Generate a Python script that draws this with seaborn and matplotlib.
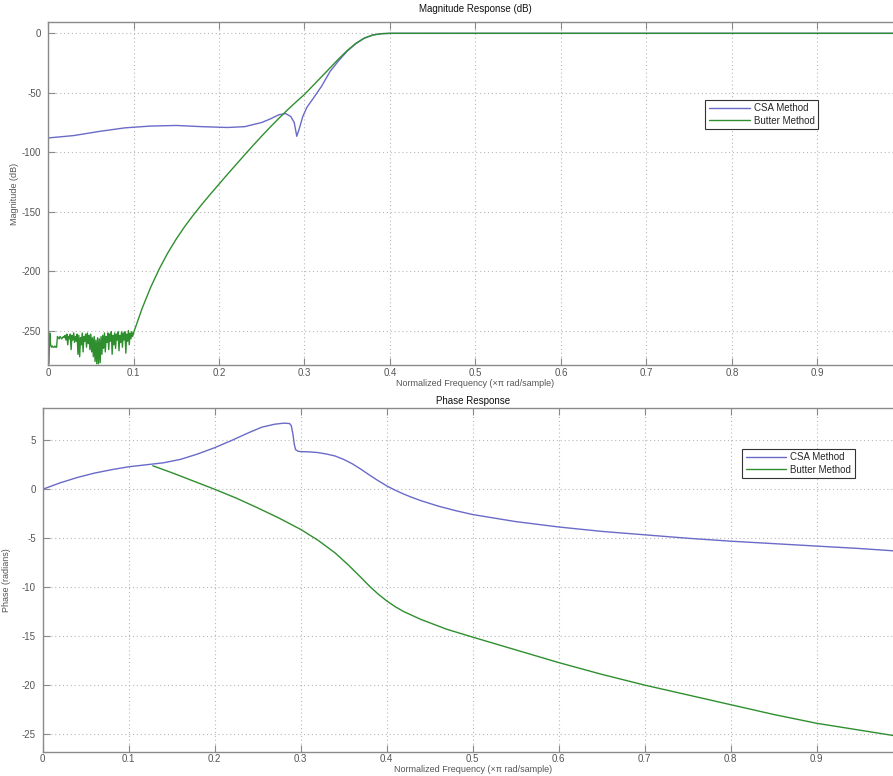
import numpy as np
import pandas as pd
import matplotlib
matplotlib.use("Agg")
import matplotlib.pyplot as plt
import seaborn as sns

# ---------------- data ----------------
methods = ["CSA Method", "Butter Method"]

# Magnitude (dB) - CSA method
mag_csa_x = [0.00, 0.03, 0.06, 0.09, 0.12, 0.15, 0.18, 0.21, 0.23, 0.25, 0.26, 0.27,
             0.278, 0.284, 0.288, 0.291, 0.294, 0.298, 0.303, 0.31, 0.32, 0.33,
             0.34, 0.35, 0.36, 0.37, 0.38, 0.39, 0.40, 1.00]
mag_csa_y = [-88, -86, -82.5, -79.5, -78, -77.5, -78.5, -79.2, -78.5, -75, -72, -68.5,
             -67.5, -70, -75, -86.6, -80, -70, -62, -55, -44.5, -32,
             -23, -15, -8.7, -4.1, -1.4, -0.3, 0, 0]

# Magnitude (dB) - Butter method: noisy floor 0..0.1 then smooth rise
mag_but_noise = [
    -253, -278, -252, -262, -264, -263, -264, -264, -263, -264,
    -264, -255, -256, -257, -255, -256, -257, -256, -255, -256,
    -254, -258, -253, -262, -255, -257, -253, -266, -254, -258,
    -252, -260, -255, -259, -253, -270, -254, -272, -256, -262,
    -252, -268, -255, -259, -253, -264, -252, -261, -254, -266,
    -253, -268, -256, -272, -255, -276, -258, -278, -256, -278,
    -257, -277, -255, -270, -254, -265, -252, -268, -255, -260,
    -252, -266, -253, -259, -251, -270, -254, -262, -252, -265,
    -253, -258, -251, -267, -254, -260, -251, -264, -252, -258,
    -251, -269, -253, -259, -250, -262, -252, -257, -251, -255,
]
mag_but_x = [0.100, 0.11, 0.12, 0.13, 0.14, 0.15, 0.16, 0.17, 0.18, 0.19, 0.20,
             0.21, 0.22, 0.23, 0.24, 0.25, 0.26, 0.27, 0.28, 0.29, 0.30, 0.31,
             0.32, 0.33, 0.34, 0.35, 0.36, 0.37, 0.38, 0.39, 0.40, 1.00]
mag_but_y = [-252, -231.5, -213.7, -198.3, -184.8, -173, -162.4, -152.8, -143.8,
             -135.2, -126.8, -118.5, -110.3, -102.2, -94.2, -86.4, -78.8, -71.5,
             -64.5, -57.8, -51.4, -44, -36.5, -29, -21.5, -14.5, -8.5, -4, -1.4,
             -0.3, 0, 0]

# Phase (radians)
ph_csa_x = [0.00, 0.02, 0.04, 0.06, 0.08, 0.10, 0.12, 0.14, 0.16, 0.18, 0.20, 0.22,
            0.24, 0.255, 0.27, 0.28, 0.287, 0.289, 0.291, 0.2925, 0.294, 0.297,
            0.30, 0.31, 0.32, 0.33, 0.34, 0.35, 0.36, 0.37, 0.38, 0.39, 0.40,
            0.41, 0.42, 0.43, 0.44, 0.46, 0.48, 0.50, 0.55, 0.60, 0.65, 0.70,
            0.75, 0.80, 0.85, 0.90, 0.95, 1.00]
ph_csa_y = [0.0, 0.65, 1.2, 1.65, 2.0, 2.3, 2.5, 2.7, 3.05, 3.6, 4.25, 5.0,
            5.8, 6.35, 6.65, 6.75, 6.72, 6.5, 5.6, 4.6, 4.05, 3.88,
            3.85, 3.82, 3.75, 3.6, 3.4, 3.05, 2.6, 2.05, 1.45, 0.88, 0.35,
            -0.1, -0.5, -0.85, -1.17, -1.72, -2.18, -2.58, -3.3, -3.85, -4.3,
            -4.65, -5.0, -5.3, -5.55, -5.8, -6.05, -6.35]

ph_but_x = [0.128, 0.15, 0.175, 0.20, 0.225, 0.25, 0.275, 0.30, 0.32, 0.34, 0.355,
            0.37, 0.38, 0.39, 0.40, 0.41, 0.42, 0.44, 0.47, 0.50, 0.55, 0.60,
            0.65, 0.70, 0.75, 0.80, 0.85, 0.90, 0.95, 1.00]
ph_but_y = [2.4, 1.7, 0.85, 0.0, -0.9, -1.9, -2.95, -4.1, -5.2, -6.5, -7.7,
            -9.0, -9.9, -10.7, -11.4, -12.0, -12.5, -13.3, -14.3, -15.1, -16.4,
            -17.7, -18.9, -20.0, -21.0, -22.0, -23.0, -23.9, -24.6, -25.3]

freq_ticks = [0, 0.1, 0.2, 0.3, 0.4, 0.5, 0.6, 0.7, 0.8, 0.9]
mag_yticks = [-250, -200, -150, -100, -50, 0]
ph_yticks = [-25, -20, -15, -10, -5, 0, 5]

# ---------------- tables ----------------
noise_x = list(np.linspace(0.0, 0.099, len(mag_but_noise)))
mag_df = pd.concat([
    pd.DataFrame({"f": mag_csa_x, "v": mag_csa_y, "m": methods[0]}),
    pd.DataFrame({"f": noise_x + mag_but_x, "v": mag_but_noise + mag_but_y, "m": methods[1]}),
], ignore_index=True)
ph_df = pd.concat([
    pd.DataFrame({"f": ph_csa_x, "v": ph_csa_y, "m": methods[0]}),
    pd.DataFrame({"f": ph_but_x, "v": ph_but_y, "m": methods[1]}),
], ignore_index=True)

# ---------------- style ----------------
sns.set_theme(style="white")
plt.rcParams["font.family"] = ["Liberation Sans", "DejaVu Sans"]
plt.rcParams["axes.unicode_minus"] = False
palette = {"CSA Method": "#6a6ac8", "Butter Method": "#2f8f2f"}

fig = plt.figure(figsize=(8.93, 7.76), dpi=100)
ax1 = fig.add_axes([0.0538, 0.5296, 0.9572, 0.4420])
ax2 = fig.add_axes([0.0478, 0.0313, 0.9632, 0.4429])


def style_axes(ax, yticks, ylim, ylabel, ylpad, title, tpad, legend_anchor):
    ax.set_xlim(0, 1)
    ax.set_ylim(*ylim)
    ax.set_xticks(freq_ticks + [1.0])
    ax.set_xticklabels([("%g" % t) for t in freq_ticks] + [""])
    ax.set_yticks(yticks)
    ax.grid(True, linestyle=(0, (1, 2.5)), color="#b8b8b8", linewidth=0.8)
    for s in ax.spines.values():
        s.set_color("#8a8a8a")
        s.set_linewidth(1.0)
    ax.tick_params(direction="in", length=5, width=0.8, color="#8a8a8a",
                   labelsize=7, labelcolor="#555555", top=True, right=True,
                   bottom=True, left=True)
    ax.tick_params(axis="x", pad=2)
    ax.tick_params(axis="y", pad=5)
    ax.set_xlabel("Normalized Frequency (\u00d7\u03c0 rad/sample)", fontsize=6.5,
                  color="#555555", labelpad=0.5)
    ax.set_ylabel(ylabel, fontsize=6.5, color="#555555", labelpad=ylpad)
    ax.set_title(title, fontsize=7, color="#111111", pad=tpad)
    leg = ax.legend(loc="upper right", bbox_to_anchor=legend_anchor, fontsize=7,
                    frameon=True, fancybox=False, framealpha=1, borderpad=0.35,
                    handlelength=4.2, handletextpad=0.4, labelspacing=0.25,
                    borderaxespad=0)
    leg.get_frame().set_edgecolor("#333333")
    leg.get_frame().set_linewidth(0.8)
    for line in leg.get_lines():
        line.set_linewidth(1.0)


sns.lineplot(data=mag_df, x="f", y="v", hue="m", palette=palette, sort=False,
             estimator=None, linewidth=1.0, ax=ax1)
style_axes(ax1, mag_yticks, (-279, 9.5), "Magnitude (dB)", 2,
           "Magnitude Response (dB)", 7, (0.9006, 0.7726))

sns.lineplot(data=ph_df, x="f", y="v", hue="m", palette=palette, sort=False,
             estimator=None, linewidth=1.0, ax=ax2)
style_axes(ax2, ph_yticks, (-26.8, 8.3), "Phase (radians)", 8,
           "Phase Response", 3, (0.944, 0.8807))

fig.savefig("out.png", dpi=100)
